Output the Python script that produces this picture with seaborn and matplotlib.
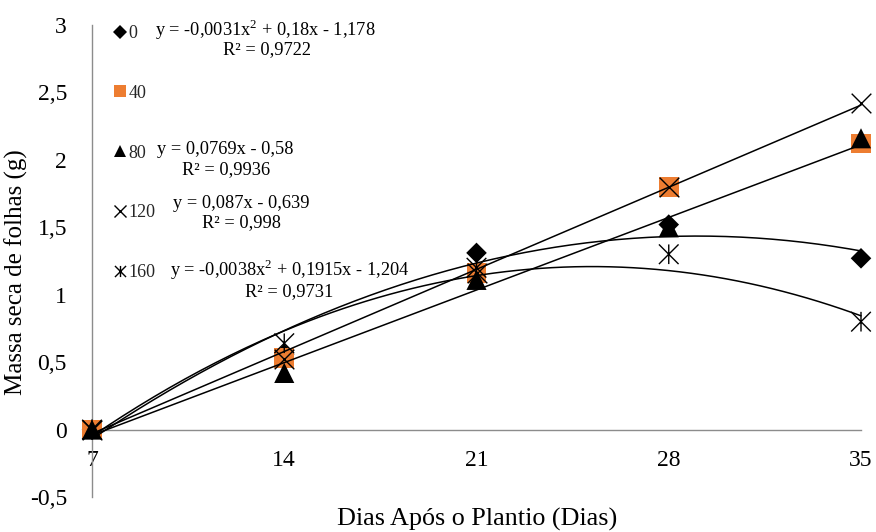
import numpy as np
import pandas as pd
import matplotlib
matplotlib.use("Agg")
import matplotlib.pyplot as plt
import seaborn as sns
from matplotlib.path import Path
from matplotlib.lines import Line2D

# ---- data ----
days = [7, 14, 21, 28, 35]
doses = ["0", "40", "80", "120", "160"]
v0 = [0.0, 0.56, 1.31, 1.52, 1.27]
v40 = [0.0, 0.53, 1.16, 1.80, 2.12]
v80 = [0.0, 0.42, 1.11, 1.50, 2.16]
v120 = [0.0, 0.52, 1.16, 1.80, 2.42]
v160 = [0.0, 0.64, 1.20, 1.30, 0.80]

# trendline coefficients (highest power first), as printed on the chart
coef0 = [-0.0031, 0.18, -1.178]
coef80 = [0.0769, -0.58]
coef120 = [0.087, -0.639]
coef160 = [-0.0038, 0.1915, -1.204]

eq_texts = [
    ("y = -0,0031x$^2$ + 0,18x - 1,178", 155, 30),
    ("R² = 0,9722", 223, 50),
    ("y = 0,0769x - 0,58", 157, 149),
    ("R² = 0,9936", 182, 170),
    ("y = 0,087x - 0,639", 173, 203),
    ("R² = 0,998", 202, 223),
    ("y = -0,0038x$^2$ + 0,1915x - 1,204", 170, 270),
    ("R² = 0,9731", 245, 292),
]

xticks = [7, 14, 21, 28, 35]
yticks = [-0.5, 0, 0.5, 1, 1.5, 2, 2.5, 3]
ytick_labels = ["-0,5", "0", "0,5", "1", "1,5", "2", "2,5", "3"]

# ---- style ----
sns.set_theme(style="white")
plt.rcParams["font.family"] = ["Liberation Serif", "DejaVu Serif"]
plt.rcParams["mathtext.fontset"] = "custom"
plt.rcParams["mathtext.rm"] = "Liberation Serif"

W, H = 876, 532
fig = plt.figure(figsize=(W / 100, H / 100), dpi=100)
ax = fig.add_axes([92 / W, 1 - 497 / H, (861 - 92) / W, (497 - 25) / H])

star = Path([(-0.5, -0.5), (0.5, 0.5), (-0.5, 0.5), (0.5, -0.5), (0, -0.5), (0, 0.5)],
            [Path.MOVETO, Path.LINETO, Path.MOVETO, Path.LINETO, Path.MOVETO, Path.LINETO])

orange = "#ED7D31"
series = [
    (v0, "D", "black", 110, "0", "fill"),
    (v40, "s", orange, 200, "40", "fill"),
    (v80, "^", "black", 210, "80", "fill"),
    (v120, "x", "black", 200, "120", "x"),
    (v160, star, "black", 200, "160", "path"),
]

for vals, mk, col, size, lab, kind in series:
    df = pd.DataFrame({"x": days, "y": vals})
    if kind == "fill":
        sns.scatterplot(data=df, x="x", y="y", marker=mk, s=size, color=col,
                        edgecolor="none", linewidth=0, ax=ax, zorder=3, clip_on=False)
    elif kind == "x":
        sns.scatterplot(data=df, x="x", y="y", marker=mk, s=size, color=col,
                        linewidth=1.0, ax=ax, zorder=3, clip_on=False)
    else:
        sns.scatterplot(data=df, x="x", y="y", marker=mk, s=size, facecolor="none",
                        edgecolor=col, linewidth=1.0, ax=ax, zorder=3,
                        clip_on=False)

# trendlines
xs = np.linspace(days[0], days[-1], 200)
for coef in (coef0, coef80, coef120, coef160):
    tdf = pd.DataFrame({"x": xs, "y": np.polyval(coef, xs)})
    sns.lineplot(data=tdf, x="x", y="y", color="black", linewidth=1.1, ax=ax,
                 zorder=4, clip_on=False)

ax.set_xlim(7, 35)
ax.set_ylim(-0.5, 3)
ax.set_xticks(xticks)
ax.set_xticklabels([str(t) for t in xticks])
ax.set_yticks(yticks)
ax.set_yticklabels(ytick_labels)
ax.tick_params(axis="both", length=0, labelsize=17, colors="black")
ax.tick_params(axis="y", pad=18)
ax.tick_params(axis="x", pad=15)

for s in ("top", "right"):
    ax.spines[s].set_visible(False)
ax.spines["bottom"].set_position(("data", 0))
ax.spines["bottom"].set_color("#8c8c8c")
ax.spines["left"].set_color("#8c8c8c")
ax.spines["bottom"].set_linewidth(1.0)
ax.spines["left"].set_linewidth(1.0)

ax.set_xlabel("")
ax.set_ylabel("")
fig.text(477 / W, 1 - 519 / H, "Dias Após o Plantio (Dias)", ha="center", va="center",
         fontsize=18.8, color="black")
fig.text(16 / W, 1 - 272 / H, "Massa seca de folhas (g)", ha="center", va="center",
         rotation=90, fontsize=18, color="black")

# legend
handles = []
for vals, mk, col, size, lab, kind in series:
    if kind == "fill":
        ms = 7 if mk == "D" else 9
        h = Line2D([], [], linestyle="none", marker=mk, markersize=ms, color=col,
                   markeredgewidth=0)
    else:
        h = Line2D([], [], linestyle="none", marker=mk, markersize=8, color=col,
                   markerfacecolor="none", markeredgecolor=col, markeredgewidth=1.0)
    handles.append(h)
leg = ax.legend(handles, doses, loc="upper left",
                bbox_to_anchor=(115 / W, 1 - 25 / H), bbox_transform=fig.transFigure,
                frameon=False, fontsize=13, handlelength=0.6, handletextpad=0.15,
                labelspacing=2.37, borderpad=0, borderaxespad=0)

for txt, px, py in eq_texts:
    fig.text(px / W, 1 - py / H, txt, ha="left", va="center", fontsize=13.2,
             color="black")

fig.savefig("out.png", dpi=100)
